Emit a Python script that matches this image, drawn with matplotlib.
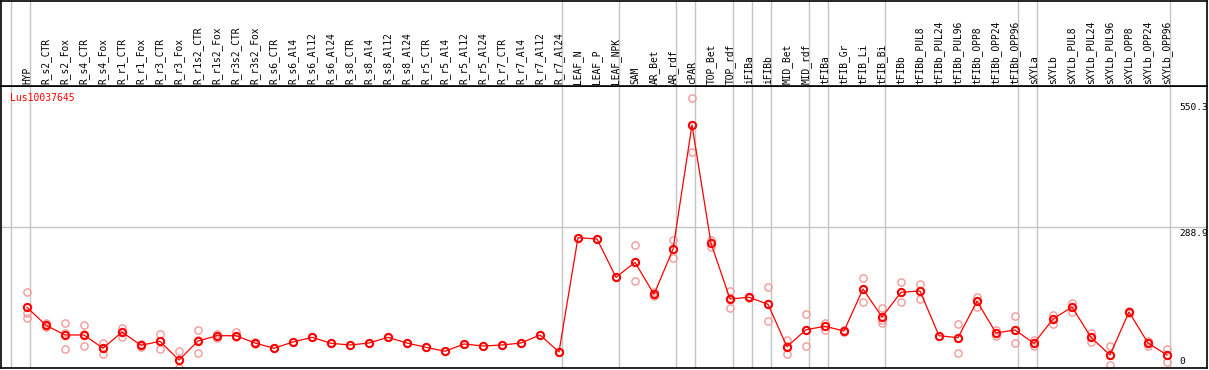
import matplotlib
matplotlib.use("Agg")
import matplotlib.pyplot as plt
import numpy as np

# sample names, as in the header
labels = ["HYP",
          "R_s2_CTR", "R_s2_Fox", "R_s4_CTR", "R_s4_Fox", "R_r1_CTR", "R_r1_Fox",
          "R_r3_CTR", "R_r3_Fox", "R_r1s2_CTR", "R_r1s2_Fox", "R_r3s2_CTR", "R_r3s2_Fox",
          "R_s6_CTR", "R_s6_Al4", "R_s6_Al12", "R_s6_Al24",
          "R_s8_CTR", "R_s8_Al4", "R_s8_Al12", "R_s8_Al24",
          "R_r5_CTR", "R_r5_Al4", "R_r5_Al12", "R_r5_Al24",
          "R_r7_CTR", "R_r7_Al4", "R_r7_Al12", "R_r7_Al24",
          "LEAF_N", "LEAF_P", "LEAF_NPK",
          "SAM", "AR_Bet", "AR_rdf",
          "cPAR",
          "TOP_Bet", "TOP_rdf",
          "iFIBa", "iFIBb",
          "MID_Bet", "MID_rdf",
          "tFIBa",
          "tFIB_Gr", "tFIB_Li", "tFIB_Bi",
          "tFIBb", "tFIBb_PUL8", "tFIBb_PUL24", "tFIBb_PUL96",
          "tFIBb_OPP8", "tFIBb_OPP24", "tFIBb_OPP96",
          "sXYLa",
          "sXYLb", "sXYLb_PUL8", "sXYLb_PUL24", "sXYLb_PUL96",
          "sXYLb_OPP8", "sXYLb_OPP24", "sXYLb_OPP96"]

# how many samples sit between two grey separators
group_sizes = [1, 28, 3, 3, 1, 2, 1, 1, 2, 1, 3, 7, 1, 7]

# mean expression per sample
means = [124.6,
         87.7, 67.8, 67.8, 40.5, 73.9, 46.6, 54.8, 16.4, 55.4, 66.3, 66.3, 51.3,
         40.5, 53.4, 63.0, 50.7,
         47.2, 51.3, 63.0, 51.3,
         42.5, 34.3, 49.3, 45.2,
         47.2, 51.3, 67.8, 32.9,
         267.6, 264.9, 186.2,
         217.0, 151.3, 243.7,
         499.0,
         256.1, 141.7,
         145.2, 130.8,
         43.7, 78.6,
         85.6,
         76.0, 162.2, 104.7,
         155.4, 158.1, 66.3, 62.2, 137.0, 71.9, 78.0,
         50.7,
         100.6, 125.3, 63.0, 26.7, 115.0, 51.3, 26.7]

# single replicates
reps = [[156.7, 113.6, 102.1],
        [91.8, 86.2, 84.2], [91.8, 71.9, 39.6], [87.7, 69.8, 44.6], [52.0, 41.1, 28.1],
        [81.5, 73.9, 64.3], [49.3, 46.2, 44.1], [69.2, 55.4, 38.4], [34.3, 16.4, 0.5],
        [77.4, 57.5, 30.2], [70.8, 66.7, 62.6], [74.5, 66.7, 63.7], [54.0, 51.3, 48.7],
        [40.5], [53.4], [63.0], [50.7],
        [47.2], [51.3], [63.0], [51.3],
        [42.5], [34.3], [49.3], [45.2],
        [47.2], [51.3], [67.8], [32.9],
        [267.6], [264.9], [186.2],
        [252.6, 217.7, 178.6], [156.1, 150.9, 147.8], [262.8, 243.7, 225.3],
        [553.8, 499.0, 442.9],
        [262.8, 256.1, 249.1], [158.1, 143.7, 122.6],
        [146.8, 145.2, 143.7], [165.7, 130.8, 96.5],
        [57.5, 45.2, 28.1], [110.3, 78.6, 45.2],
        [91.8, 85.6, 78.0],
        [78.6, 76.0, 73.9], [184.2, 162.2, 134.9], [123.8, 98.6, 91.8],
        [177.2, 155.4, 134.9], [171.9, 158.1, 142.3], [66.3], [89.7, 62.2, 30.2],
        [146.4, 137.0, 124.6], [78.0, 71.9, 65.7], [106.2, 78.0, 50.7],
        [57.5, 50.7, 45.2],
        [109.4, 100.6, 90.3], [132.9, 125.3, 115.6], [71.3, 63.0, 54.0],
        [45.2, 26.7, 6.2], [117.7, 115.0, 112.3], [56.1, 51.3, 45.8], [38.4, 26.7, 12.9]]

gene = "Lus10037645"
ytick_vals = [0, 288.9, 550.3]

mono = "DejaVu Sans Mono"
W, H = 1209, 370
fig = plt.figure(figsize=(W / 100, H / 100), dpi=100)

# plot area and header share the x axis
ax = fig.add_axes([1 / W, 2 / H, 1206 / W, 282 / H])
hx = fig.add_axes([1 / W, 284 / H, 1206 / W, 85.5 / H], sharex=ax)

x = np.arange(len(labels))
ax.set_xlim(-26 / 19, 1180 / 19)
ax.set_ylim(0, 579)
hx.set_ylim(0, 1)

for a in (ax, hx):
    a.set_xticks([])
    a.set_yticks([])
    for s in a.spines.values():
        s.set_color("black")
        s.set_linewidth(1.2)

# grey separators between sample groups
bounds = np.concatenate([[-1], np.cumsum(group_sizes) - 1]) + 0.16
for b in bounds:
    ax.axvline(b, color="#c4c4c4", lw=1, zorder=0)
    hx.axvline(b, color="#c4c4c4", lw=1, zorder=0)

ax.axhline(ytick_vals[1], color="#c4c4c4", lw=1, zorder=0)

# replicates
for i, r in enumerate(reps):
    ax.plot([x[i]] * len(r), r, "o", ms=5.2, mfc="none", mec="#f29a9a",
            mew=1.0, zorder=2, clip_on=True)

# means joined by a line
ax.plot(x, means, "-", color="#ff0000", lw=0.9, zorder=3)
ax.plot(x, means, "o", ms=5.2, mfc="none", mec="#ff0000", mew=1.5, zorder=4)

for i, lab in enumerate(labels):
    hx.text(x[i], 0.025, lab, rotation=90, ha="center", va="bottom",
            family=mono, fontsize=6.9)

ax.annotate(gene, xy=(0, 1), xycoords="axes fraction", xytext=(9, -12),
            textcoords="offset pixels", va="center", ha="left",
            family=mono, fontsize=7, color="#ff0000")

# value labels on the right
offs = [4, -9, -10]
for v, dy in zip(ytick_vals, offs):
    ax.annotate(f"{v:g}", xy=(1, v), xycoords=("axes fraction", "data"),
                xytext=(-28, dy), textcoords="offset pixels",
                va="baseline", ha="left", family=mono, fontsize=6.8,
                annotation_clip=False)

fig.savefig("out.png", dpi=100)
